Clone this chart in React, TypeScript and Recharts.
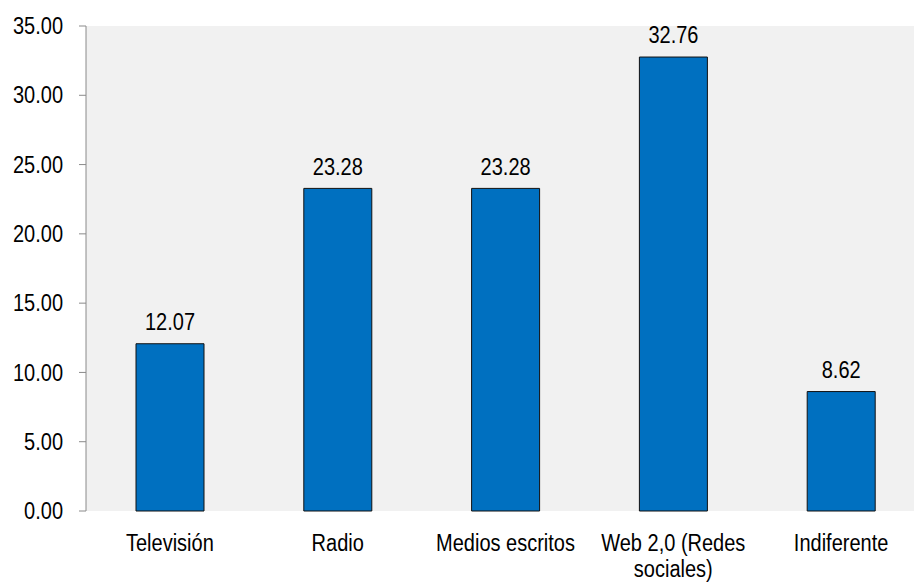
import { Bar, BarChart, CartesianGrid, LabelList, Text, XAxis, YAxis } from "recharts";

const categories = ["Televisión", "Radio", "Medios escritos", "Web 2,0 (Redes sociales)", "Indiferente"];
const percentages = [12.07, 23.28, 23.28, 32.76, 8.62];
const yTicks = [0, 5, 10, 15, 20, 25, 30, 35];
const edgeTicks = [0, 1, 2, 3, 4, 5];

const data = categories.map((name, i) => ({ name, value: percentages[i] }));

const FONT = "'Liberation Sans', Arial, sans-serif";
const FONT_SIZE = 20;
const STRETCH = 1.15; // the reference text is a bit taller than it is wide
const AXIS_GREY = "#8a8a8a";

function CategoryTick(props: any) {
  const { x, y, payload } = props;
  return (
    <g transform={`translate(${x},${y}) scale(1,${STRETCH})`}>
      <Text
        x={0}
        y={20.5}
        width={150}
        textAnchor="middle"
        verticalAnchor="start"
        lineHeight={26.5 / STRETCH}
        fontSize={FONT_SIZE}
        fontFamily={FONT}
        fill="#000"
      >
        {payload.value}
      </Text>
    </g>
  );
}

function ValueTick(props: any) {
  const { x, y, payload } = props;
  return (
    <g transform={`translate(${x},${y}) scale(1,${STRETCH})`}>
      <text textAnchor="end" dy="0.355em" fontSize={FONT_SIZE} fontFamily={FONT} fill="#000">
        {Number(payload.value).toFixed(2)}
      </text>
    </g>
  );
}

function BarValue(props: any) {
  const { x, y, width, value } = props;
  return (
    <g transform={`translate(${x + width / 2},${y - 22}) scale(1,${STRETCH})`}>
      <text textAnchor="middle" dy="0.355em" fontSize={FONT_SIZE} fontFamily={FONT} fill="#000">
        {Number(value).toFixed(2)}
      </text>
    </g>
  );
}

export default function App() {
  return (
    <div style={{ position: "absolute", left: 0, top: 0, width: 914, height: 582, overflow: "hidden", background: "#fff" }}>
      <BarChart
        width={925}
        height={582}
        data={data}
        margin={{ top: 26, right: 0, bottom: 0, left: 0 }}
      >
        <CartesianGrid fill="#f1f1f1" horizontal={false} vertical={false} />
        <XAxis
          xAxisId="edge"
          type="number"
          domain={[0, 5]}
          ticks={edgeTicks}
          allowDataOverflow
          height={0}
          tick={() => <g />}
          tickSize={7}
          stroke={AXIS_GREY}
        />
        <XAxis
          xAxisId="cat"
          dataKey="name"
          height={71}
          axisLine={false}
          tickLine={false}
          tickSize={0}
          tickMargin={0}
          interval={0}
          tick={<CategoryTick />}
        />
        <YAxis
          width={86}
          domain={[0, 35]}
          ticks={yTicks}
          tickSize={7}
          tickMargin={16}
          stroke={AXIS_GREY}
          tick={<ValueTick />}
        />
        <Bar
          xAxisId="cat"
          dataKey="value"
          fill="#0070c0"
          stroke="#111"
          strokeWidth={1}
          barSize={68}
          isAnimationActive={false}
        >
          <LabelList dataKey="value" content={<BarValue />} />
        </Bar>
      </BarChart>
    </div>
  );
}
